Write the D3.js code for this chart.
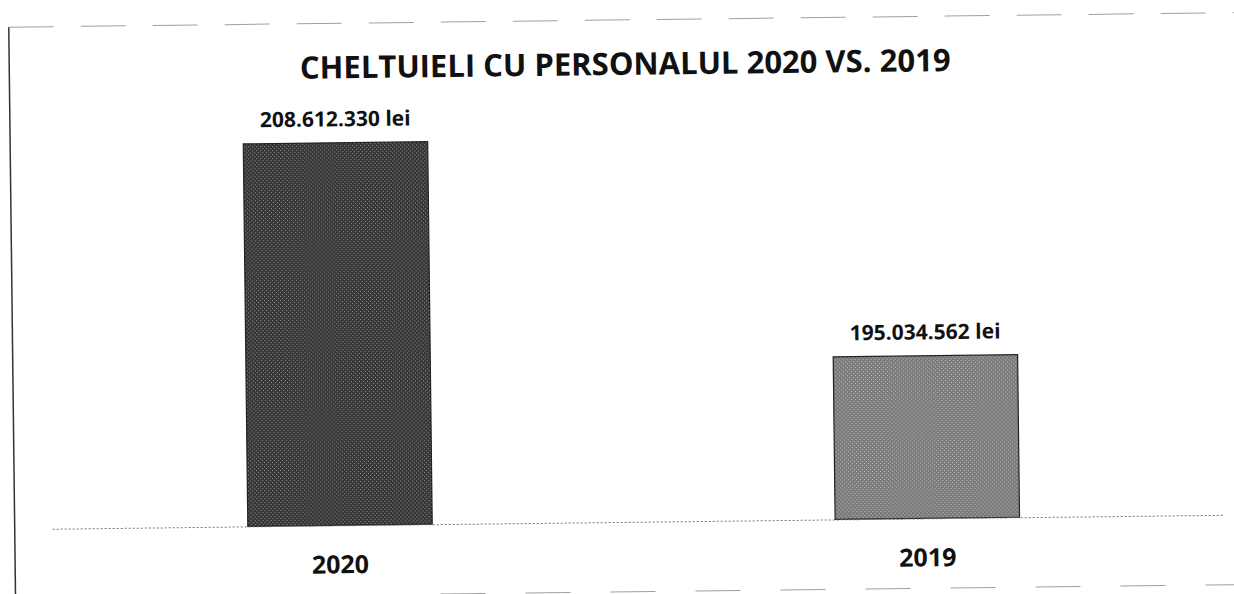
<!DOCTYPE html>
<html lang="ro">
<head>
  <meta charset="UTF-8">
  <title>Cheltuieli cu personalul 2020 vs. 2019</title>
  <script src="https://d3js.org/d3.v7.min.js"></script>
  <style>
    body {
      margin: 0;
      background: #fff;
      font-family: "Open Sans", sans-serif;
    }
    svg {
      display: block;
    }
  </style>
</head>
<body>

<svg id="chart" width="1234" height="594"></svg>

<script>
// chart data
const categories = ["2020", "2019"];
const values = [208612330, 195034562];
const yDomain = [185000000, 210000000];
const title = "CHELTUIELI CU PERSONALUL 2020 VS. 2019";
const barColors = ["#363636", "#7a7a7a"];
const speckColors = ["#9a9a9a", "#c4c4c4"];

// romanian number format: 208.612.330
const ro = d3.formatLocale({ decimal: ",", thousands: ".", grouping: [3], currency: ["", " lei"] });
const fmt = ro.format(",");

const svg = d3.select("#chart");
const width = +svg.attr("width");
const height = +svg.attr("height");

// scanned-looking fill: base colour with a light speckle grid
const defs = svg.append("defs");
barColors.forEach((c, i) => {
  const p = defs.append("pattern")
    .attr("id", "scan" + i)
    .attr("width", 4).attr("height", 4)
    .attr("patternUnits", "userSpaceOnUse");
  p.append("rect").attr("width", 4).attr("height", 4).attr("fill", c);
  p.append("rect").attr("x", 0).attr("y", 0).attr("width", 1).attr("height", 1).attr("fill", speckColors[i]);
  p.append("rect").attr("x", 2).attr("y", 2).attr("width", 1).attr("height", 1).attr("fill", speckColors[i]);
});

// the reference is a scan, slightly tilted
const page = svg.append("g")
  .attr("transform", `rotate(-0.68, ${width / 2}, ${height / 2})`);

// page frame: dashed top and bottom, solid left edge
page.append("line")
  .attr("x1", 12).attr("x2", width + 10)
  .attr("y1", 20).attr("y2", 20)
  .attr("stroke", "#a0a0a0")
  .attr("stroke-dasharray", "45,27");
page.append("line")
  .attr("x1", 12).attr("x2", width + 10)
  .attr("y1", 592).attr("y2", 592)
  .attr("stroke", "#a0a0a0")
  .attr("stroke-dasharray", "45,40");
page.append("line")
  .attr("x1", 12).attr("x2", 12)
  .attr("y1", 20).attr("y2", height + 10)
  .attr("stroke", "#333")
  .attr("stroke-width", 1.5);

// scales
const x = d3.scaleBand()
  .domain(categories)
  .range([46, 1216])
  .paddingInner(0.686)
  .paddingOuter(0.339);

const y = d3.scaleLinear()
  .domain(yDomain)
  .range([522, 117]);

// title
page.append("text")
  .attr("x", 628)
  .attr("y", 75)
  .attr("text-anchor", "middle")
  .attr("font-size", 31)
  .attr("font-weight", 700)
  .attr("fill", "#111")
  .text(title);

// bars
const data = categories.map((c, i) => ({ cat: c, value: values[i], fill: `url(#scan${i})` }));

page.append("g")
  .selectAll("rect")
  .data(data)
  .join("rect")
    .attr("x", d => x(d.cat))
    .attr("y", d => y(d.value))
    .attr("width", x.bandwidth())
    .attr("height", d => y(yDomain[0]) - y(d.value))
    .attr("fill", d => d.fill)
    .attr("stroke", "#222")
    .attr("stroke-width", 1.2);

// value labels
page.append("g")
  .selectAll("text")
  .data(data)
  .join("text")
    .attr("x", d => x(d.cat) + x.bandwidth() / 2)
    .attr("y", d => y(d.value) - 16.5)
    .attr("text-anchor", "middle")
    .attr("font-size", 21)
    .attr("font-weight", 700)
    .attr("fill", "#111")
    .text(d => fmt(d.value) + " lei");

// category axis
const xAxis = page.append("g")
  .attr("transform", `translate(0, ${y(yDomain[0])})`)
  .call(d3.axisBottom(x).tickSize(0).tickSizeOuter(0));

xAxis.select(".domain")
  .attr("d", `M${x.range()[0] + 4},0.5H${x.range()[1] + 4}`)
  .attr("stroke", "#777")
  .attr("stroke-dasharray", "2,2");

xAxis.selectAll(".tick text")
  .attr("dy", null)
  .attr("y", 48)
  .attr("font-family", "Open Sans, sans-serif")
  .attr("font-size", 25)
  .attr("font-weight", 700)
  .attr("fill", "#111");
</script>

</body>
</html>
